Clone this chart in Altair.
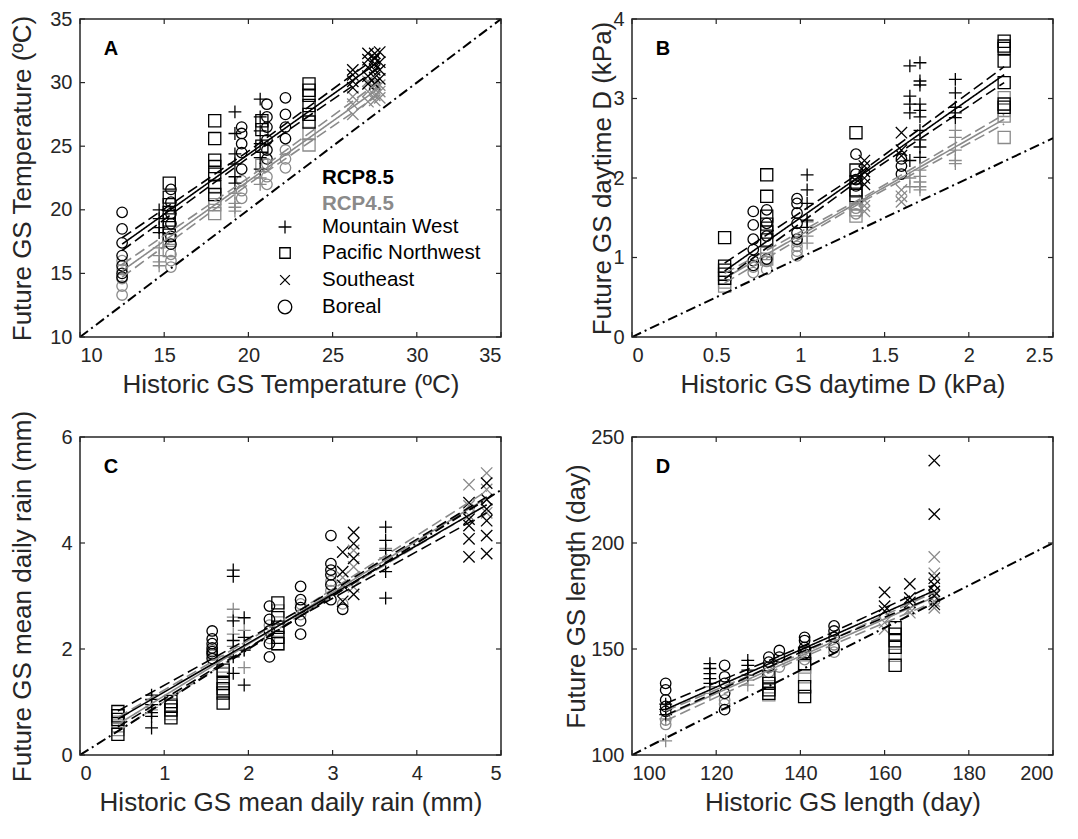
import altair as alt
import pandas as pd

FONT = "Liberation Sans"
INK = "#262626"
BLACK = "#000000"
GRAY = "#8a8a8a"
W, H = 421, 318

REGIONS = ["Mountain West", "Pacific Northwest", "Southeast", "Boreal"]
MW, PNW, SE, BO = REGIONS
RCPS = ["RCP8.5", "RCP4.5"]

PLUS = "M-1,0L1,0M0,-1L0,1"
XMARK = "M-1,-1L1,1M-1,1L1,-1"
SHAPES = [PLUS, "square", XMARK, "circle"]
SIZES = [165, 110, 95, 185]

# ---------------- Panel A: GS temperature ----------------
A_x = [12.5, 14.7, 15.3, 15.4, 18.0, 19.2, 19.6, 20.7, 20.8, 21.1, 22.2, 23.6, 26.2, 27.1, 27.5, 27.8]
A_reg = [BO, MW, PNW, BO, PNW, MW, BO, MW, PNW, BO, BO, PNW, SE, SE, SE, SE]
A_85 = [[19.8, 18.5, 17.4, 16.4, 15.6, 15.0, 14.7],
        [20.0, 19.3, 18.6, 18.2],
        [22.1, 21.0, 20.4, 19.8, 19.2, 18.6, 18.0],
        [21.6, 20.6, 19.7, 18.9, 17.9, 17.3],
        [27.0, 25.6, 23.9, 23.4, 22.8, 21.8, 21.2],
        [27.7, 26.0, 24.4, 23.6, 22.6, 22.1],
        [26.5, 26.0, 25.2, 24.5, 23.2],
        [28.7, 27.3, 26.2, 25.2, 24.1, 23.2],
        [27.0, 26.3, 25.0],
        [28.3, 27.3, 26.5, 25.5, 24.7, 24.0],
        [28.8, 27.5, 26.5, 25.6],
        [29.9, 29.4, 29.0, 28.2, 27.5, 26.9],
        [31.0, 30.6, 30.1, 29.6],
        [32.3, 31.8, 31.2, 30.5, 29.9],
        [32.3, 31.9, 31.5, 31.0, 30.4, 29.9],
        [32.4, 31.6, 31.0, 30.3]]
A_45 = [[16.0, 15.3, 14.6, 14.0, 13.3],
        [17.0, 16.4, 15.9, 15.6],
        [17.6, 16.8],
        [16.5, 16.0, 15.5],
        [20.9, 20.4, 19.7],
        [21.3, 20.5, 20.2, 19.9],
        [22.3, 21.5, 20.9],
        [22.5, 22.0],
        [23.5],
        [23.6, 22.6, 22.0],
        [24.7, 24.0, 23.3],
        [26.0, 25.1],
        [28.9, 28.3, 27.5],
        [30.1, 29.3, 28.5],
        [30.0, 29.5, 29.0, 28.6],
        [29.8, 29.3, 28.8]]
A_fx = [12.5, 20.15, 27.8]
A_f85 = [17.3, 24.5, 31.7]
A_lo85 = [16.8, 24.25, 31.2]
A_hi85 = [17.8, 24.75, 32.2]
A_f45 = [15.2, 22.4, 29.6]
A_lo45 = [14.7, 22.15, 29.1]
A_hi45 = [15.7, 22.65, 30.1]
A_one = [10, 35]
A_xt = [10, 15, 20, 25, 30, 35]
A_yt = [10, 15, 20, 25, 30, 35]

# ---------------- Panel B: daytime D ----------------
B_x = [0.55, 0.72, 0.80, 0.80, 0.98, 1.04, 1.33, 1.33, 1.38, 1.60, 1.60, 1.65, 1.71, 1.92, 2.21]
B_reg = [PNW, BO, PNW, BO, BO, MW, PNW, BO, SE, SE, BO, MW, MW, MW, PNW]
B_85 = [[1.25, 0.89, 0.84, 0.79, 0.74],
        [1.58, 1.41, 1.23, 1.10, 0.96, 0.90],
        [2.04, 1.77, 1.52, 1.42, 1.32, 1.22],
        [1.60, 1.43, 1.27, 0.98],
        [1.74, 1.68, 1.56, 1.43, 1.31, 1.23],
        [2.04, 1.85, 1.68, 1.47, 1.38],
        [2.57, 2.10, 1.95, 1.85, 1.78],
        [2.30, 2.05, 1.98, 1.90],
        [2.22, 2.15, 2.08, 2.00, 1.92],
        [2.57, 2.35, 2.28],
        [2.24, 2.15, 2.05],
        [3.41, 3.03, 2.93, 2.82, 2.22],
        [3.45, 3.22, 3.17, 2.93, 2.85, 2.77, 2.60, 2.48, 2.39, 2.26],
        [3.24, 3.07, 2.89, 2.82, 2.76],
        [3.72, 3.66, 3.63, 3.47, 3.20, 2.93, 2.89]]
B_45 = [[0.69, 0.64],
        [0.88, 0.81],
        [1.05, 0.98],
        [0.95, 0.85],
        [1.20, 1.14, 1.08, 1.02],
        [1.45, 1.27, 1.18],
        [1.68, 1.60, 1.52],
        [1.62, 1.55],
        [1.72, 1.65, 1.58],
        [1.85, 1.77, 1.70],
        [],
        [2.00, 1.89],
        [2.10, 2.02, 1.95, 1.89, 1.85],
        [2.60, 2.51, 2.35, 2.22, 2.18],
        [3.01, 2.85, 2.78, 2.51]]
B_fx = [0.55, 1.38, 2.21]
B_f85 = [0.83, 2.065, 3.30]
B_lo85 = [0.73, 2.025, 3.20]
B_hi85 = [0.93, 2.105, 3.40]
B_f45 = [0.74, 1.74, 2.74]
B_lo45 = [0.68, 1.715, 2.68]
B_hi45 = [0.80, 1.765, 2.80]
B_one = [0, 2.5]
B_xt = [0, 0.5, 1, 1.5, 2, 2.5]
B_yt = [0, 1, 2, 3, 4]

# ---------------- Panel C: daily rain ----------------
C_x = [0.45, 0.85, 1.08, 1.57, 1.70, 1.82, 1.95, 2.25, 2.35, 2.62, 2.98, 3.12, 3.12, 3.25, 3.63, 4.62, 4.83]
C_reg = [PNW, MW, PNW, BO, PNW, MW, MW, BO, PNW, BO, BO, BO, SE, SE, MW, SE, SE]
C_85 = [[0.82, 0.74, 0.67, 0.39],
        [1.13, 1.05, 0.95, 0.80, 0.73, 0.51],
        [1.01, 0.92, 0.85, 0.70],
        [2.34, 2.19, 2.10, 2.02, 1.95, 1.91, 1.82],
        [1.60, 1.35, 1.25, 1.17, 0.98],
        [3.49, 3.37, 2.53, 2.16, 1.85, 1.54],
        [2.59, 2.22, 1.98, 1.32],
        [2.81, 2.56, 2.34, 2.10, 1.85],
        [2.87, 2.59, 2.41, 2.22, 2.10],
        [3.18, 2.93, 2.78, 2.53, 2.28],
        [4.14, 3.61, 3.49, 3.40, 3.21, 2.93],
        [2.75],
        [3.83, 3.46, 3.20, 2.90],
        [4.20, 3.99, 3.71, 3.03],
        [4.30, 4.05, 3.86, 3.46, 2.96],
        [4.76, 4.45, 4.33, 4.08, 3.74],
        [5.13, 4.82, 4.64, 4.42, 4.14, 3.80]]
C_45 = [[0.62, 0.55, 0.48],
        [0.90, 0.85],
        [0.95, 0.78],
        [1.98, 1.88],
        [1.75, 1.54, 1.45],
        [2.75, 2.60, 2.28, 2.05],
        [2.35, 1.98, 1.65],
        [2.45, 2.20],
        [2.72, 2.35, 2.10],
        [2.85, 2.65],
        [3.28, 3.10],
        [2.85],
        [3.35],
        [3.86, 3.55, 3.17],
        [3.90, 3.72],
        [5.10, 4.70, 4.52],
        [5.32, 5.01, 4.82, 4.57]]
C_fx = [0.45, 2.64, 4.83]
C_f85 = [0.68, 2.70, 4.72]
C_lo85 = [0.53, 2.64, 4.57]
C_hi85 = [0.83, 2.76, 4.87]
C_f45 = [0.58, 2.715, 4.85]
C_lo45 = [0.45, 2.665, 4.72]
C_hi45 = [0.71, 2.765, 4.98]
C_one = [0, 5]
C_xt = [0, 1, 2, 3, 4, 5]
C_yt = [0, 2, 4, 6]

# ---------------- Panel D: GS length ----------------
D_x = [108, 108, 118.5, 122, 127.5, 132.5, 132.5, 135, 141, 141, 148, 160, 162.5, 166, 171.8]
D_reg = [BO, MW, MW, BO, MW, BO, PNW, BO, BO, PNW, BO, SE, PNW, SE, SE]
D_85 = [[133.8, 130.7, 126.0, 122.9, 120.6],
        [124.0, 121.5, 119.0],
        [143.1, 140.8, 138.4, 136.0, 133.8],
        [142.3, 136.9, 133.8, 129.1, 121.4],
        [144.6, 142.3, 140.0, 137.7],
        [146.2, 143.8, 141.5],
        [136.9, 133.8, 130.7, 129.1],
        [149.3, 146.2],
        [155.5, 154.0, 150.8, 147.7],
        [148.0, 143.1, 132.2, 127.6],
        [160.9, 158.5, 155.5, 150.8],
        [176.7, 170.2, 167.9],
        [160.1, 157.0, 153.9, 150.8, 142.3],
        [180.7, 174.1, 172.0],
        [238.9, 213.6, 183.4, 180.3, 177.2, 175.0, 171.0]]
D_45 = [[116.5, 114.4],
        [117.0, 106.7],
        [132.2, 129.1],
        [126.0, 124.0],
        [135.3, 133.0],
        [139.0],
        [132.2, 128.4],
        [141.5],
        [145.0],
        [141.5, 136.9],
        [152.0, 148.5],
        [162.5, 159.4],
        [147.0],
        [169.0, 167.1],
        [193.4, 185.7, 180.3, 175.6, 172.5, 169.4]]
D_fx = [108, 139.9, 171.8]
D_f85 = [121.5, 149.5, 177.5]
D_lo85 = [118.7, 148.3, 174.7]
D_hi85 = [124.3, 150.7, 180.3]
D_f45 = [118.5, 146.5, 174.5]
D_lo45 = [116.2, 145.5, 172.2]
D_hi45 = [120.8, 147.5, 176.8]
D_one = [100, 200]
D_xt = [100, 120, 140, 160, 180, 200]
D_yt = [100, 150, 200, 250]

LEGEND_ROWS_Y = [208, 234, 261, 288]


def points_df(cx, creg, c85, c45):
    rows = []
    for rcp, groups in (("RCP4.5", c45), ("RCP8.5", c85)):
        for x, reg, ys in zip(cx, creg, groups):
            for y in ys:
                rows.append({"x": x, "y": y, "region": reg, "rcp": rcp})
    return pd.DataFrame(rows)


def lines_df(fx, f85, lo85, hi85, f45, lo45, hi45):
    rows = []
    for rcp, parts in (("RCP4.5", (("fit", f45), ("lo", lo45), ("hi", hi45))),
                       ("RCP8.5", (("fit", f85), ("lo", lo85), ("hi", hi85)))):
        for kind, ys in parts:
            for i, (x, y) in enumerate(zip(fx, ys)):
                rows.append({"x": x, "y": y, "rcp": rcp, "kind": kind, "key": rcp + kind, "i": i})
    return pd.DataFrame(rows)


def panel(letter, cx, creg, c85, c45, fx, f85, lo85, hi85, f45, lo45, hi45,
          one, xt, yt, xtitle, ytitle, ytx, legend=False):
    xdom = [xt[0], xt[-1]]
    ydom = [yt[0], yt[-1]]
    X = alt.X("x:Q", scale=alt.Scale(domain=xdom, nice=False, zero=False),
              axis=alt.Axis(values=xt, title=xtitle, format=".4~g",
                            titleX=W / 2, titleY=47, titleBaseline="middle"))
    Y = alt.Y("y:Q", scale=alt.Scale(domain=ydom, nice=False, zero=False),
              axis=alt.Axis(values=yt, title=ytitle, format=".4~g",
                            titleX=ytx, titleY=H / 2, titleBaseline="middle",
                            titleAngle=270))
    color = alt.Color("rcp:N", scale=alt.Scale(domain=RCPS, range=[BLACK, GRAY]), legend=None)

    pts = alt.Chart(points_df(cx, creg, c85, c45)).mark_point(
        filled=False, strokeWidth=1.3, opacity=1
    ).encode(
        x=X, y=Y, color=color,
        shape=alt.Shape("region:N", scale=alt.Scale(domain=REGIONS, range=SHAPES), legend=None),
        size=alt.Size("region:N", scale=alt.Scale(domain=REGIONS, range=SIZES), legend=None),
    )

    lines = alt.Chart(lines_df(fx, f85, lo85, hi85, f45, lo45, hi45)).mark_line(
        strokeWidth=1.6
    ).encode(
        x=X, y=Y, color=color, detail="key:N", order="i:Q",
        strokeDash=alt.StrokeDash("kind:N", scale=alt.Scale(domain=["fit", "lo", "hi"],
                                  range=[[1, 0], [11, 5], [11, 5]]), legend=None),
    )

    diag = alt.Chart(pd.DataFrame({"x": one, "y": one})).mark_line(
        color=BLACK, strokeWidth=2, strokeDash=[10, 4, 2, 4], clip=True
    ).encode(x=X, y=Y)

    xticks = pd.DataFrame({"x": xt})
    yticks = pd.DataFrame({"y": yt})
    tb = alt.Chart(xticks).mark_rule(color=INK, strokeWidth=1.2).encode(
        x=X, y=alt.value(H - 5), y2=alt.value(H))
    tt = alt.Chart(xticks).mark_rule(color=INK, strokeWidth=1.2).encode(
        x=X, y=alt.value(0), y2=alt.value(5))
    tl = alt.Chart(yticks).mark_rule(color=INK, strokeWidth=1.2).encode(
        y=Y, x=alt.value(0), x2=alt.value(5))
    tr = alt.Chart(yticks).mark_rule(color=INK, strokeWidth=1.2).encode(
        y=Y, x=alt.value(W - 5), x2=alt.value(W))

    lab = alt.Chart(pd.DataFrame({"t": [letter]})).mark_text(
        font=FONT, fontSize=20, fontWeight="bold", color=BLACK, align="center", baseline="middle"
    ).encode(x=alt.value(31), y=alt.value(30), text="t:N")

    layers = [pts, lines, diag, tb, tt, tl, tr, lab]

    if legend:
        for name, col, yy in (("RCP8.5", BLACK, 159), ("RCP4.5", GRAY, 185)):
            layers.append(alt.Chart(pd.DataFrame({"t": [name]})).mark_text(
                font=FONT, fontSize=20.5, fontWeight="bold", color=col, align="left", baseline="middle"
            ).encode(x=alt.value(242), y=alt.value(yy), text="t:N"))
        for reg, shp, sz, yy in zip(REGIONS, SHAPES, SIZES, LEGEND_ROWS_Y):
            layers.append(alt.Chart(pd.DataFrame({"t": [reg]})).mark_text(
                font=FONT, fontSize=20.5, color=BLACK, align="left", baseline="middle"
            ).encode(x=alt.value(242), y=alt.value(yy), text="t:N"))
            layers.append(alt.Chart(pd.DataFrame({"t": [reg]})).mark_point(
                filled=False, strokeWidth=1.3, color=BLACK, opacity=1, shape=shp, size=sz
            ).encode(x=alt.value(205), y=alt.value(yy)))

    return alt.layer(*layers).properties(width=W, height=H)


pA = panel("A", A_x, A_reg, A_85, A_45, A_fx, A_f85, A_lo85, A_hi85, A_f45, A_lo45, A_hi45,
           A_one, A_xt, A_yt, "Historic GS Temperature (ºC)", "Future GS Temperature (ºC)", -58,
           legend=True)
pB = panel("B", B_x, B_reg, B_85, B_45, B_fx, B_f85, B_lo85, B_hi85, B_f45, B_lo45, B_hi45,
           B_one, B_xt, B_yt, "Historic GS daytime D (kPa)", "Future GS daytime D (kPa)", -30)
pC = panel("C", C_x, C_reg, C_85, C_45, C_fx, C_f85, C_lo85, C_hi85, C_f45, C_lo45, C_hi45,
           C_one, C_xt, C_yt, "Historic GS mean daily rain (mm)", "Future GS mean daily rain (mm)", -58)
pD = panel("D", D_x, D_reg, D_85, D_45, D_fx, D_f85, D_lo85, D_hi85, D_f45, D_lo45, D_hi45,
           D_one, D_xt, D_yt, "Historic GS length (day)", "Future GS length (day)", -56)

chart = alt.concat(
    pA, pB, pC, pD, columns=2,
    spacing={"row": 100, "column": 131}, bounds="flush",
).properties(
    padding={"left": 0, "top": 0, "right": 0, "bottom": 0}
).configure_view(
    stroke=INK, strokeWidth=1.5
).configure_axis(
    grid=False, domain=False, ticks=False, tickSize=0, labelPadding=8,
    labelFont=FONT, labelFontSize=20, labelColor=INK,
    titleFont=FONT, titleFontSize=26, titleFontWeight="normal", titleColor=INK,
)

chart.save("out.html", embed_options={"renderer": "svg", "actions": False})
